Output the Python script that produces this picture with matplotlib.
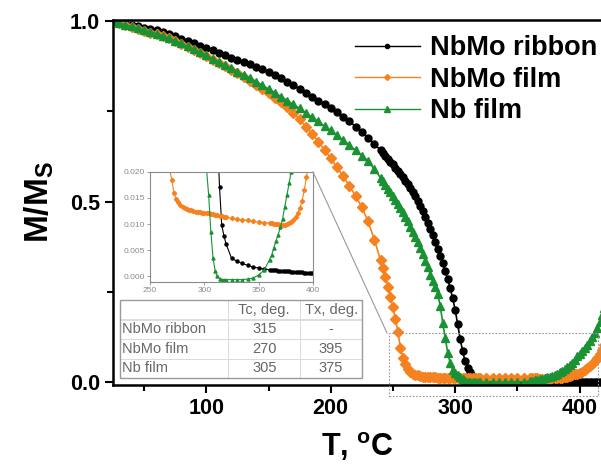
import numpy as np
import matplotlib
matplotlib.use("Agg")
import matplotlib.pyplot as plt
from matplotlib.patches import Rectangle
from matplotlib.lines import Line2D

plt.rcParams['font.family'] = ['Liberation Sans', 'DejaVu Sans']
plt.rcParams['mathtext.fontset'] = 'custom'
plt.rcParams['mathtext.bf'] = 'Liberation Sans:bold'
plt.rcParams['mathtext.rm'] = 'Liberation Sans'

# temperature grid (deg C)
T = np.concatenate([np.arange(25, 241, 5), np.arange(242, 321, 2),
                    np.arange(325, 361, 5), np.arange(362, 421, 2)])

ribbon = [
    1.000, 0.997, 0.994, 0.990, 0.986, 0.982, 0.978, 0.974, 0.970, 0.964,
    0.958, 0.951, 0.945, 0.938, 0.931, 0.925, 0.919, 0.912, 0.906, 0.899,
    0.893, 0.886, 0.880, 0.873, 0.866, 0.859, 0.850, 0.841, 0.832, 0.822,
    0.812, 0.801, 0.791, 0.780, 0.770, 0.760, 0.748, 0.735, 0.722, 0.708,
    0.693, 0.677, 0.660, 0.642,
    0.634, 0.627, 0.619, 0.611, 0.603, 0.594, 0.585, 0.576, 0.567, 0.558,
    0.548, 0.538, 0.527, 0.515, 0.502, 0.488, 0.474, 0.458, 0.442, 0.425,
    0.407, 0.389, 0.370, 0.350, 0.330, 0.308, 0.285, 0.260, 0.232, 0.200,
    0.160, 0.120, 0.085, 0.058, 0.040, 0.027, 0.017, 0.0098, 0.0078, 0.0062,
    0.0035, 0.0029, 0.0025, 0.0021, 0.0018, 0.0016, 0.0014, 0.0013,
    0.0013, 0.0012, 0.0012, 0.0011, 0.0011, 0.0011, 0.0010, 0.0010, 0.0010, 0.0009,
    0.0009, 0.0009, 0.0008, 0.0008, 0.0008, 0.0007, 0.0007, 0.0007, 0.0006, 0.0006,
    0.0006, 0.0006, 0.0006, 0.0006, 0.0005, 0.0005, 0.0005, 0.0005, 0.0005, 0.0005,
]

nbmo_film = [
    1.000, 0.994, 0.988, 0.983, 0.978, 0.973, 0.968, 0.963, 0.958, 0.952,
    0.945, 0.937, 0.929, 0.920, 0.911, 0.902, 0.893, 0.884, 0.875, 0.865,
    0.855, 0.845, 0.834, 0.823, 0.812, 0.800, 0.788, 0.775, 0.761, 0.746,
    0.728, 0.708, 0.688, 0.666, 0.643, 0.620, 0.595, 0.570, 0.543, 0.515,
    0.485, 0.445, 0.395, 0.338,
    0.315, 0.291, 0.264, 0.236, 0.207, 0.176, 0.140, 0.095, 0.068, 0.050,
    0.037, 0.027, 0.022, 0.0205, 0.0185, 0.0160, 0.0148, 0.0142, 0.0137, 0.0133,
    0.0130, 0.0128, 0.0127, 0.0126, 0.0125, 0.0124, 0.0123, 0.0123, 0.0122, 0.0122,
    0.0121, 0.0121, 0.0120, 0.0119, 0.0118, 0.0117, 0.0116, 0.0115, 0.0114, 0.0113,
    0.0111, 0.0109, 0.0108, 0.0107, 0.0105, 0.0104, 0.0103, 0.0102,
    0.0102, 0.0101, 0.0101, 0.0100, 0.0099, 0.0098, 0.0099, 0.0100, 0.0102, 0.0104,
    0.0108, 0.0114, 0.0122, 0.0130, 0.0145, 0.0165, 0.0190, 0.0215, 0.0235, 0.026,
    0.029, 0.033, 0.038, 0.044, 0.051, 0.059, 0.068, 0.078, 0.090, 0.103,
]

nb_film = [
    1.000, 0.995, 0.990, 0.985, 0.980, 0.975, 0.970, 0.965, 0.960, 0.953,
    0.946, 0.938, 0.930, 0.922, 0.914, 0.905, 0.896, 0.887, 0.878, 0.869,
    0.860, 0.851, 0.842, 0.832, 0.822, 0.812, 0.802, 0.791, 0.780, 0.769,
    0.758, 0.746, 0.734, 0.722, 0.709, 0.697, 0.684, 0.670, 0.656, 0.642,
    0.627, 0.613, 0.590, 0.566,
    0.556, 0.546, 0.536, 0.526, 0.515, 0.504, 0.493, 0.482, 0.470, 0.458,
    0.445, 0.431, 0.417, 0.402, 0.387, 0.371, 0.354, 0.336, 0.318, 0.298,
    0.280, 0.263, 0.245, 0.210, 0.165, 0.122, 0.082, 0.052, 0.034, 0.026,
    0.0205, 0.0155, 0.0085, 0.0035, 0.0010, 0.0000, -0.0004, -0.0006, -0.0006, -0.0006,
    -0.0006, -0.0006, -0.0006, -0.0005, -0.0003, 0.0003, 0.0012, 0.0032,
    0.0041, 0.0055, 0.0068, 0.0080, 0.0094, 0.0110, 0.0133, 0.0155, 0.0178, 0.0200,
    0.023, 0.027, 0.031, 0.036, 0.041, 0.047, 0.054, 0.062, 0.071, 0.079,
    0.087, 0.095, 0.104, 0.113, 0.124, 0.136, 0.150, 0.166, 0.185, 0.205,
]

names = ["NbMo ribbon", "NbMo film", "Nb film"]
colors = ["black", "#f5821f", "#1a9234"]
markers = ["o", "D", "^"]
msizes = [5, 5, 6]
series = [ribbon, nbmo_film, nb_film]

table_cols = ["", "Tc, deg.", "Tx, deg."]
table_rows = [["NbMo ribbon", "315", "-"],
              ["NbMo film", "270", "395"],
              ["Nb film", "305", "375"]]

fig = plt.figure(figsize=(6.01, 4.68), dpi=100)
ax = fig.add_axes([113 / 601, 1 - 385 / 468, 489 / 601, 365 / 468])

for y, c, m, ms, n in zip(series, colors, markers, msizes, names):
    ax.plot(T, y, color=c, marker=m, ms=ms, lw=1.2, mec=c, mfc=c, label=n)

ax.set_xlim(25, 418)
ax.set_ylim(-0.008, 1.003)
ax.set_xticks([100, 200, 300, 400])
ax.set_xticks([50, 150, 250, 350], minor=True)
ax.set_yticks([0.0, 0.5, 1.0])
ax.set_yticks([0.25, 0.75], minor=True)
ax.set_yticklabels(["0.0", "0.5", "1.0"])
ax.tick_params(which='major', direction='out', length=6, width=1.5, labelsize=15.5)
ax.tick_params(which='minor', direction='out', length=4, width=1.5)
for lab in ax.get_xticklabels() + ax.get_yticklabels():
    lab.set_fontweight('bold')
for s in ax.spines.values():
    s.set_linewidth(1.8)

ax.set_xlabel("T, $\\mathregular{^o}$C", fontsize=22, fontweight='bold', labelpad=8)
ax.set_ylabel(r"$\mathbf{M/M_S}$", fontsize=24, labelpad=10)

handles = [Line2D([], [], color=c, marker=m, ms=ms - 2, lw=1.0) for c, m, ms in zip(colors, markers, msizes)]
leg = ax.legend(handles, names, loc='upper right', bbox_to_anchor=(1.03, 1.01), frameon=False,
                prop={'size': 19.5, 'weight': 'bold'}, handlelength=2.4, handletextpad=0.4,
                labelspacing=0.2, borderaxespad=0.3)

# zoom region marker
rect = Rectangle((247, -0.038), 168, 0.173, fill=False, ls=(0, (1.5, 1.5)), lw=0.8,
                 ec='#999999', clip_on=False, zorder=5)
ax.add_patch(rect)

# table
tab = ax.table(cellText=table_rows, colLabels=table_cols, cellLoc='center',
               colWidths=[0.447, 0.298, 0.255],
               bbox=[7 / 489, 7 / 365, 242 / 489, 78 / 365])
tab.auto_set_font_size(False)
tab.set_fontsize(10.5)
for (r, cidx), cell in tab.get_celld().items():
    cell.set_edgecolor('#d8d8d8')
    cell.set_linewidth(0.6)
    cell.get_text().set_color('#666666')
    cell.set_facecolor('white')
    if cidx == 0:
        cell.get_text().set_ha('left')
        cell.PAD = 0.02
tab.set_zorder(6)
# outer border
ax.add_patch(Rectangle((7 / 489, 7 / 365), 242 / 489, 78 / 365, transform=ax.transAxes,
                       fill=False, ec='#9a9a9a', lw=1.0, zorder=7))

# inset
ins = fig.add_axes([150 / 601, 1 - 281.7 / 468, 163 / 601, 110 / 468])
for y, c, m in zip(series, colors, markers):
    ins.plot(T, y, color=c, marker=m, ms=2.2, lw=0.8, mec=c, mfc=c)
ins.set_xlim(250, 400)
ins.set_ylim(-0.001, 0.020)
ins.set_xticks([250, 300, 350, 400])
ins.set_yticks([0.0, 0.005, 0.010, 0.015, 0.020])
ins.set_yticklabels(["0.000", "0.005", "0.010", "0.015", "0.020"])
ins.tick_params(direction='out', length=2, width=0.6, labelsize=6, colors='#8a8a8a', pad=1.5)
for s in ins.spines.values():
    s.set_color('#8a8a8a')
    s.set_linewidth(0.8)

# connector line from inset corner to zoom box
fig.add_artist(Line2D([313 / 601, 387 / 601], [1 - 172 / 468, 1 - 333 / 468],
                      color='#999999', lw=0.8))

fig.savefig("out.png", dpi=100)
